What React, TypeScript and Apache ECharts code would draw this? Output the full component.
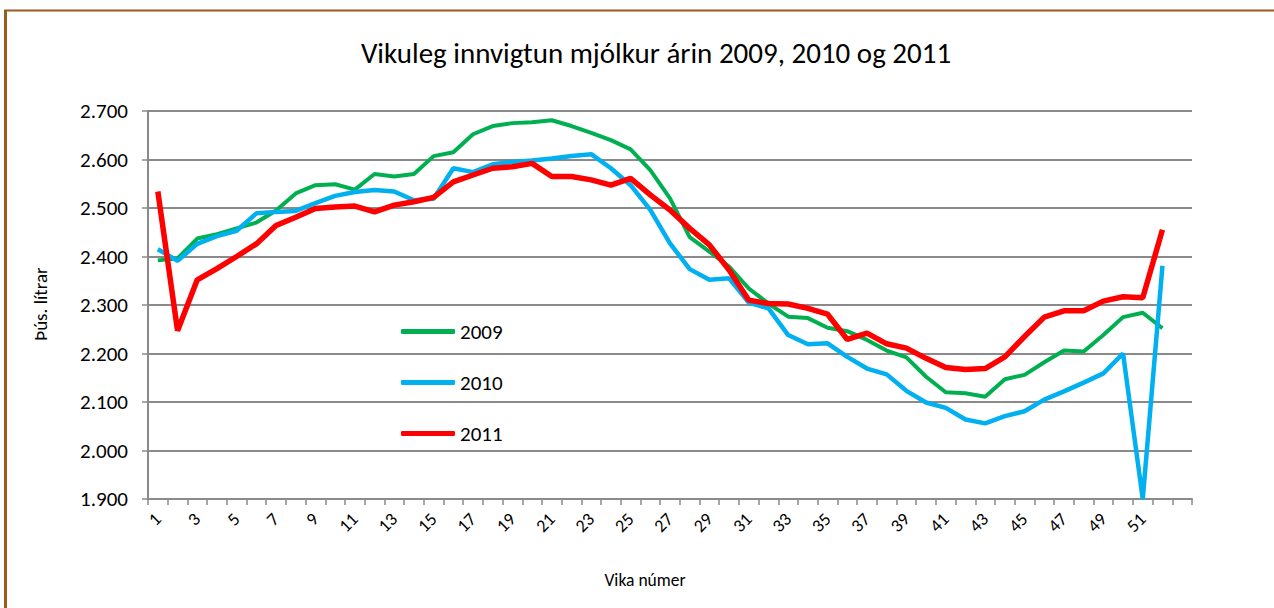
import React, { useEffect, useRef } from "react";
import * as echarts from "echarts";

const weeks: string[] = [
  "1","2","3","4","5","6","7","8","9","10","11","12","13","14","15","16","17","18","19","20",
  "21","22","23","24","25","26","27","28","29","30","31","32","33","34","35","36","37","38","39","40",
  "41","42","43","44","45","46","47","48","49","50","51","52","",
];

const y2009: number[] = [
  2392, 2396, 2437, 2446, 2458, 2470, 2495, 2530, 2547, 2549,
  2538, 2570, 2565, 2570, 2607, 2615, 2652, 2669, 2675, 2677,
  2681, 2669, 2655, 2640, 2621, 2578, 2520, 2440, 2410, 2379,
  2334, 2303, 2276, 2273, 2253, 2246, 2228, 2206, 2192, 2152,
  2120, 2118, 2111, 2147, 2156, 2182, 2206, 2204, 2238, 2275,
  2284, 2252,
];

const y2010: number[] = [
  2415, 2391, 2426, 2442, 2453, 2489, 2492, 2494, 2510, 2525,
  2533, 2537, 2534, 2516, 2519, 2582, 2574, 2590, 2595, 2598,
  2602, 2607, 2611, 2582, 2547, 2496, 2427, 2374, 2352, 2355,
  2305, 2293, 2238, 2219, 2221, 2193, 2169, 2157, 2123, 2099,
  2088, 2064, 2056, 2071, 2081, 2105, 2122, 2140, 2159, 2200,
  1900, 2381,
];

const y2011: number[] = [
  2534, 2247, 2352, 2375, 2400, 2426, 2464, 2481, 2499, 2502,
  2504, 2492, 2506, 2513, 2522, 2554, 2568, 2582, 2585, 2592,
  2565, 2565, 2558, 2547, 2561, 2527, 2496, 2458, 2424, 2372,
  2310, 2303, 2302, 2293, 2281, 2229, 2242, 2220, 2211, 2190,
  2171, 2167, 2169, 2193, 2235, 2275, 2288, 2288, 2308, 2317,
  2315, 2455,
];

const seriesNames: string[] = ["2009", "2010", "2011"];
const titleText = "Vikuleg innvigtun mjólkur árin 2009, 2010 og 2011";
const yAxisTitle = "Þús. lítrar";
const xAxisTitle = "Vika númer";

const FONT = "Carlito, Lato, 'Open Sans', sans-serif";

export default function App() {
  const ref = useRef<HTMLDivElement>(null);

  useEffect(() => {
    document.body.style.margin = "0";
    const chart = echarts.init(ref.current!, undefined, { renderer: "svg" });
    const gridColor = "#8a8a8a";
    const border = "#9c5a1e";
    chart.setOption({
      animation: false,
      backgroundColor: "#ffffff",
      textStyle: { fontFamily: FONT, color: "#000" },
      legend: {
        orient: "vertical",
        left: 401,
        top: 321,
        padding: 0,
        itemGap: 30,
        itemWidth: 54,
        itemHeight: 5,
        icon: "roundRect",
        data: seriesNames,
        textStyle: { fontFamily: FONT, fontSize: 21, color: "#000", lineHeight: 20, height: 20 },
      },
      grid: { left: 148, right: 82, top: 111, bottom: 109, containLabel: false },
      xAxis: {
        type: "category",
        data: weeks,
        boundaryGap: true,
        axisLine: { lineStyle: { color: gridColor, width: 2 } },
        axisTick: { show: true, interval: 0, length: 6, lineStyle: { color: gridColor, width: 1.5 } },
        axisLabel: {
          interval: 1,
          rotate: 45,
          margin: 17,
          fontSize: 18,
          color: "#000",
          fontFamily: FONT,
        },
        splitLine: { show: false },
      },
      yAxis: {
        type: "value",
        min: 1900,
        max: 2700,
        interval: 100,
        axisLine: { show: true, lineStyle: { color: gridColor, width: 2 } },
        axisTick: { show: true, length: 6, lineStyle: { color: gridColor, width: 1.5 } },
        axisLabel: {
          margin: 20,
          fontSize: 21,
          color: "#000",
          fontFamily: FONT,
          formatter: (v: number) => (v / 1000).toFixed(3),
        },
        splitLine: { show: true, lineStyle: { color: gridColor, width: 2 } },
      },
      series: [
        {
          name: seriesNames[0],
          type: "line",
          data: y2009,
          symbol: "none",
          lineStyle: { color: "#00b050", width: 4 },
          itemStyle: { color: "#00b050" },
        },
        {
          name: seriesNames[1],
          type: "line",
          data: y2010,
          symbol: "none",
          lineStyle: { color: "#00b0f0", width: 4.5 },
          itemStyle: { color: "#00b0f0" },
        },
        {
          name: seriesNames[2],
          type: "line",
          data: y2011,
          symbol: "none",
          lineStyle: { color: "#ff0000", width: 5.5 },
          itemStyle: { color: "#ff0000" },
        },
      ],
      graphic: [
        {
          type: "line",
          shape: { x1: 5.5, y1: 10, x2: 5.5, y2: 608 },
          style: { stroke: border, lineWidth: 3 },
        },
        {
          type: "line",
          shape: { x1: 4, y1: 10.5, x2: 1274, y2: 10.5 },
          style: { stroke: border, lineWidth: 2 },
        },
        {
          type: "text",
          x: 656,
          y: 53,
          style: {
            text: titleText,
            fontSize: 29,
            fontFamily: FONT,
            fill: "#000",
            align: "center",
            verticalAlign: "middle",
          },
        },
        {
          type: "text",
          x: 40,
          y: 304,
          rotation: Math.PI / 2,
          style: {
            text: yAxisTitle,
            fontSize: 19,
            fontFamily: FONT,
            fill: "#000",
            align: "center",
            verticalAlign: "middle",
          },
        },
        {
          type: "text",
          x: 645,
          y: 580,
          style: {
            text: xAxisTitle,
            fontSize: 17.5,
            fontFamily: FONT,
            fill: "#000",
            align: "center",
            verticalAlign: "middle",
          },
        },
      ],
    });
    return () => chart.dispose();
  }, []);

  return <div ref={ref} style={{ width: 1274, height: 608 }} />;
}
